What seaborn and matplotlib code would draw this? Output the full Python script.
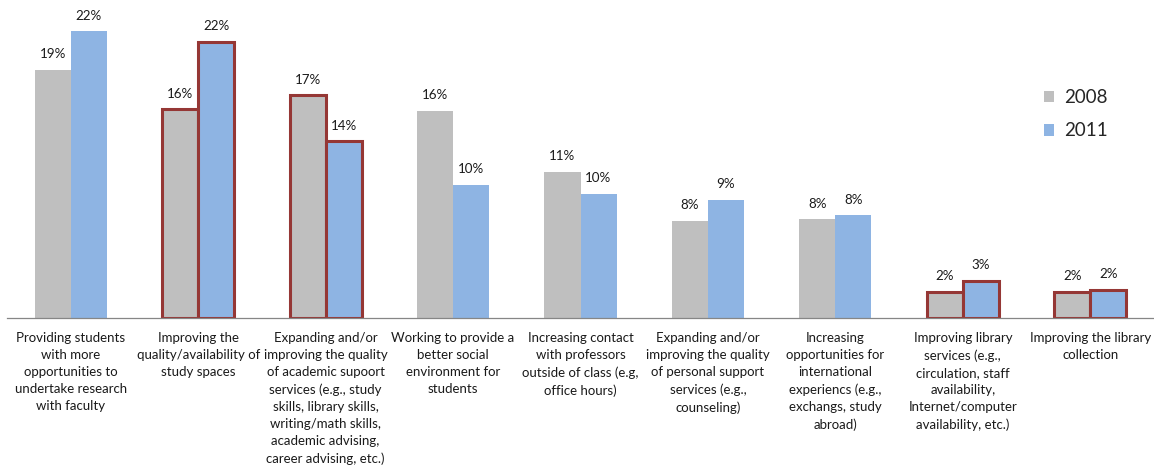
import matplotlib
matplotlib.use("Agg")
import matplotlib.pyplot as plt
import seaborn as sns
import pandas as pd
from matplotlib.patches import Patch

categories = [
    "Providing students\nwith more\nopportunities to\nundertake research\nwith faculty",
    "Improving the\nquality/availability of\nstudy spaces",
    "Expanding and/or\nimproving the quality\nof academic supoort\nservices (e.g., study\nskills, library skills,\nwriting/math skills,\nacademic advising,\ncareer advising, etc.)",
    "Working to provide a\nbetter social\nenvironment for\nstudents",
    "Increasing contact\nwith professors\noutside of class (e.g,\noffice hours)",
    "Expanding and/or\nimproving the quality\nof personal support\nservices (e.g.,\ncounseling)",
    "Increasing\nopportunities for\ninternational\nexperiencs (e.g.,\nexchangs, study\nabroad)",
    "Improving library\nservices (e.g.,\ncirculation, staff\navailability,\nInternet/computer\navailability, etc.)",
    "Improving the library\ncollection",
]
years = ["2008", "2011"]
values_2008 = [19.4, 16.3, 17.4, 16.2, 11.4, 7.6, 7.7, 2.0, 2.0]
values_2011 = [22.4, 21.6, 13.8, 10.4, 9.7, 9.2, 8.0, 2.9, 2.2]
# categories whose bars get a highlighted outline
highlighted = [1, 2, 7, 8]

colors = {"2008": "#BFBFBF", "2011": "#8EB4E3"}
outline = "#953735"

df = pd.DataFrame({
    "category": categories * 2,
    "year": ["2008"] * len(categories) + ["2011"] * len(categories),
    "value": values_2008 + values_2011,
})

sns.set_style("white")
plt.rcParams["font.family"] = ["Lato", "DejaVu Sans"]

W, H = 1154, 473
fig = plt.figure(figsize=(W / 100, H / 100), dpi=100)
base_y = 317.7
px_per_unit = 12.78
ytop = 24.5
ax = fig.add_axes([7 / W, (H - base_y) / H, (W - 7) / W, ytop * px_per_unit / H])

sns.barplot(data=df, x="category", y="value", hue="year", order=categories,
            hue_order=years, palette=colors, saturation=1, width=0.565,
            linewidth=0, ax=ax, legend=False)

for container in ax.containers:
    for i, bar in enumerate(container):
        if i in highlighted:
            bar.set_edgecolor(outline)
            bar.set_linewidth(2.2)
        h = bar.get_height()
        ax.annotate(f"{h:.0f}%", (bar.get_x() + bar.get_width() / 2, h),
                    xytext=(0, 7), textcoords="offset points",
                    ha="center", va="bottom", fontsize=9.6, color="#1a1a1a")

ax.set_xlim(-0.5, len(categories) - 0.5)
ax.set_ylim(0, ytop)
ax.set_xlabel("")
ax.set_ylabel("")
ax.set_yticks([])
for s in ["left", "top", "right"]:
    ax.spines[s].set_visible(False)
ax.spines["bottom"].set_color("#868686")
ax.spines["bottom"].set_linewidth(0.9)

ax.set_xticks(range(len(categories)))
ax.set_xticklabels(categories, fontsize=9.5, color="#1a1a1a",
                   linespacing=1.5, va="top")
ax.tick_params(axis="x", which="major", length=0, pad=10.5)
ax.set_xticks([i - 0.5 for i in range(len(categories) + 1)], minor=True)
ax.tick_params(axis="x", which="minor", length=4.5, width=0.9,
               color="#868686", direction="out")

handles = [Patch(facecolor=colors[y], edgecolor="none", label=y) for y in years]
fig.legend(handles=handles, loc="upper left",
           bbox_to_anchor=(1044 / W, 1 - 89 / H), frameon=False,
           fontsize=13.5, handlelength=0.55, handleheight=0.55,
           handletextpad=0.5, labelspacing=0.88, borderpad=0, borderaxespad=0)

fig.savefig("out.png", dpi=100)
